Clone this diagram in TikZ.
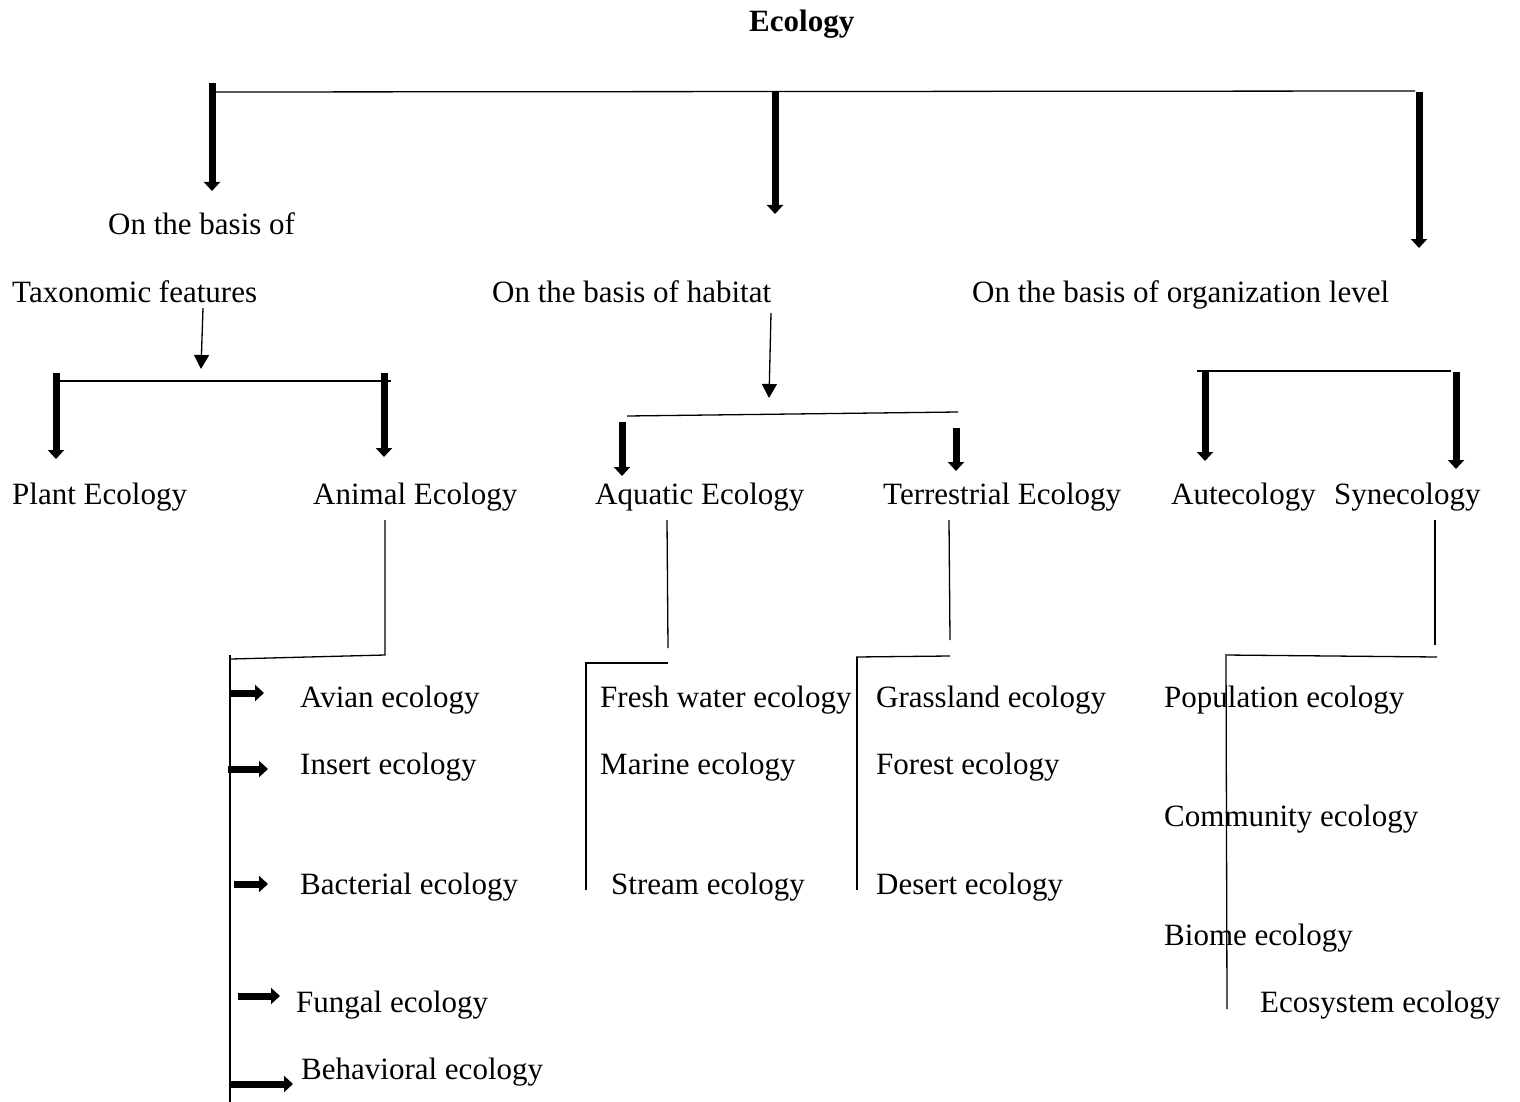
\documentclass[tikz,border=0pt]{standalone}
\usepackage{fontspec}
\setmainfont{Liberation Serif}
\usetikzlibrary{arrows.meta}
\begin{document}
\begin{tikzpicture}[x=1pt,y=-1pt,
  lbl/.style={anchor=base west,inner sep=0pt,font=\fontsize{31}{37}\selectfont},
  rule/.style={line width=1.3pt},
  bigarrow/.style={line width=7pt,-{Triangle[width=16pt,length=9pt]}},
  thinarrow/.style={line width=1.3pt,-{Triangle[width=15pt,length=14pt]}}]
\useasboundingbox (0,0) rectangle (1520,1102);

% title
\node[lbl,font=\bfseries\fontsize{31}{37}\selectfont] (title) at (749,32) {Ecology};

% top bracket with three branches
\coordinate (t0) at (215,92);
\coordinate (t1) at (1415,91);
\draw[rule] (t0) -- (t1);
\coordinate (a1s) at (212,83);   \coordinate (a1e) at (212,191);
\coordinate (a2s) at (775,92);   \coordinate (a2e) at (775,214);
\coordinate (a3s) at (1419,92);  \coordinate (a3e) at (1419,248);
\draw[bigarrow] (a1s) -- (a1e);
\draw[bigarrow] (a2s) -- (a2e);
\draw[bigarrow] (a3s) -- (a3e);

% criteria
\node[lbl] (basis) at (108,234) {On the basis of};
\node[lbl] (tax) at (12,302) {Taxonomic features};
\node[lbl] (hab) at (492,302) {On the basis of habitat};
\node[lbl] (org) at (972,302) {On the basis of organization level};

% taxonomic split
\coordinate (tx0) at (203,308); \coordinate (tx1) at (201,369);
\draw[thinarrow] (tx0) -- (tx1);
\coordinate (tb0) at (57,381); \coordinate (tb1) at (391,381);
\draw[rule] (tb0) -- (tb1);
\coordinate (p0) at (56,373);  \coordinate (p1) at (56,459);
\coordinate (an0) at (384,373); \coordinate (an1) at (384,457);
\draw[bigarrow] (p0) -- (p1);
\draw[bigarrow] (an0) -- (an1);

% habitat split
\coordinate (hx0) at (771,313); \coordinate (hx1) at (769,398);
\draw[thinarrow] (hx0) -- (hx1);
\coordinate (hb0) at (627,416); \coordinate (hb1) at (958,412);
\draw[rule] (hb0) -- (hb1);
\coordinate (q0) at (622,422); \coordinate (q1) at (622,476);
\coordinate (r0) at (956,428); \coordinate (r1) at (956,471);
\draw[bigarrow] (q0) -- (q1);
\draw[bigarrow] (r0) -- (r1);

% organization split
\coordinate (ob0) at (1197,371); \coordinate (ob1) at (1451,371);
\draw[rule] (ob0) -- (ob1);
\coordinate (au0) at (1205,371); \coordinate (au1) at (1205,461);
\coordinate (sy0) at (1456,372); \coordinate (sy1) at (1456,469);
\draw[bigarrow] (au0) -- (au1);
\draw[bigarrow] (sy0) -- (sy1);

% second level
\node[lbl] (plant) at (12,504) {Plant Ecology};
\node[lbl] (animal) at (313,504) {Animal Ecology};
\node[lbl] (aquatic) at (595,504) {Aquatic Ecology};
\node[lbl] (terr) at (883,504) {Terrestrial Ecology};
\node[lbl] (aut) at (1171,504) {Autecology};
\node[lbl] (syn) at (1334,504) {Synecology};

% animal ecology branch
\coordinate (m0) at (385,520); \coordinate (m1) at (385,655);
\coordinate (m2) at (231,659);
\draw[rule] (m0) -- (m1) -- (m2);
\coordinate (ms0) at (230,655); \coordinate (ms1) at (230,1102);
\draw[rule] (ms0) -- (ms1);
\coordinate (e1a) at (229,693);  \coordinate (e1b) at (264,693);
\coordinate (e2a) at (228,769);  \coordinate (e2b) at (268,769);
\coordinate (e3a) at (234,884);  \coordinate (e3b) at (268,884);
\coordinate (e4a) at (238,996);  \coordinate (e4b) at (280,996);
\coordinate (e5a) at (230,1084); \coordinate (e5b) at (293,1084);
\draw[bigarrow] (e1a) -- (e1b);
\draw[bigarrow] (e2a) -- (e2b);
\draw[bigarrow] (e3a) -- (e3b);
\draw[bigarrow] (e4a) -- (e4b);
\draw[bigarrow] (e5a) -- (e5b);
\node[lbl] (avian) at (300,707) {Avian ecology};
\node[lbl] (insert) at (300,774) {Insert ecology};
\node[lbl] (bact) at (300,894) {Bacterial ecology};
\node[lbl] (fungal) at (296,1012) {Fungal ecology};
\node[lbl] (behav) at (301,1079) {Behavioral ecology};

% aquatic ecology branch
\coordinate (w0) at (667,520); \coordinate (w1) at (668,648);
\draw[rule] (w0) -- (w1);
\coordinate (w2) at (668,663); \coordinate (w3) at (585,663);
\draw[rule] (w2) -- (w3);
\coordinate (w4) at (586,663); \coordinate (w5) at (586,890);
\draw[rule] (w4) -- (w5);
\node[lbl] (fresh) at (600,707) {Fresh water ecology};
\node[lbl] (marine) at (600,774) {Marine ecology};
\node[lbl] (stream) at (611,894) {Stream ecology};

% terrestrial ecology branch
\coordinate (g0) at (949,520); \coordinate (g1) at (950,640);
\draw[rule] (g0) -- (g1);
\coordinate (g2) at (950,656); \coordinate (g3) at (856,657);
\draw[rule] (g2) -- (g3);
\coordinate (g4) at (857,657); \coordinate (g5) at (857,890);
\draw[rule] (g4) -- (g5);
\node[lbl] (grass) at (876,707) {Grassland ecology};
\node[lbl] (forest) at (876,774) {Forest ecology};
\node[lbl] (desert) at (876,894) {Desert ecology};

% synecology branch
\coordinate (s0) at (1435,520); \coordinate (s1) at (1435,645);
\draw[rule] (s0) -- (s1);
\coordinate (s2) at (1437,657); \coordinate (s3) at (1225,655);
\draw[rule] (s2) -- (s3);
\coordinate (s4) at (1226,656); \coordinate (s5) at (1227,1009);
\draw[rule] (s4) -- (s5);
\node[lbl] (pop) at (1164,707) {Population ecology};
\node[lbl] (comm) at (1164,826) {Community ecology};
\node[lbl] (biome) at (1164,945) {Biome ecology};
\node[lbl] (ecosys) at (1260,1012) {Ecosystem ecology};
\end{tikzpicture}
\end{document}
